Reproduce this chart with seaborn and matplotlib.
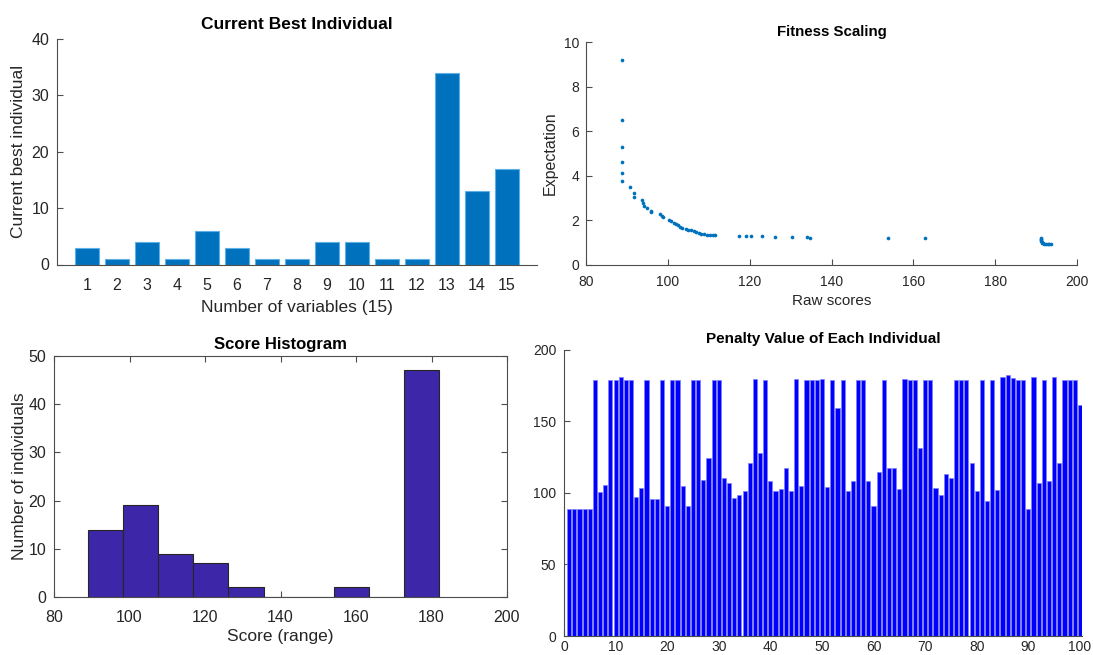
import numpy as np
import pandas as pd
import matplotlib
matplotlib.use("Agg")
import matplotlib.pyplot as plt
import seaborn as sns

# ---------------- data ----------------
variables = list(range(1, 16))
best_individual = [3, 1, 4, 1, 6, 3, 1, 1, 4, 4, 1, 1, 34, 13, 17]

raw_scores = [88.8, 88.8, 88.8, 88.8, 88.8, 88.8, 90.7, 91.8, 91.8, 93.8,
              93.9, 94.1, 94.8, 95.9, 96.0, 98.0, 98.5, 98.9, 100.2, 100.8,
              101.4, 101.9, 102.4, 103.0, 103.5, 104.5, 105.0, 105.6, 106.3, 106.9,
              107.6, 108.2, 108.9, 109.5, 110.2, 111.1, 111.6, 117.3, 119.2, 120.4,
              122.9, 126.2, 130.4, 134.0, 134.7, 153.8, 162.9, 191.2, 191.2, 191.3,
              191.3, 191.4, 191.5, 191.7, 192.0, 192.4, 192.8, 193.2, 193.6]
expectation = [9.21, 6.51, 5.31, 4.60, 4.11, 3.75, 3.47, 3.24, 3.04, 2.89,
               2.76, 2.64, 2.53, 2.42, 2.35, 2.28, 2.20, 2.12, 2.02, 1.95,
               1.89, 1.83, 1.77, 1.71, 1.65, 1.60, 1.57, 1.54, 1.50, 1.46,
               1.42, 1.39, 1.36, 1.34, 1.33, 1.32, 1.31, 1.30, 1.29, 1.28,
               1.27, 1.25, 1.24, 1.22, 1.21, 1.19, 1.18, 1.19, 1.15, 1.11,
               1.07, 1.03, 0.99, 0.96, 0.94, 0.93, 0.92, 0.92, 0.91]

individuals = list(range(1, 101))
penalty = [89, 89, 89, 89, 89, 179, 100.5, 105.5, 179, 179,
           181, 179, 179, 97, 103, 179, 95.5, 95.5, 179, 91,
           179, 179, 104.5, 91, 179, 179, 109, 124.5, 179, 179,
           110, 107, 96, 98.5, 101, 121, 179.5, 128, 179, 108,
           101, 102.5, 117, 101.5, 179.5, 105, 179, 179, 179, 179.5,
           104, 179, 159.5, 179, 101.5, 108, 179, 179, 108, 91,
           114.5, 179, 117, 117.5, 102.5, 179.5, 179, 179, 131, 179,
           179, 103.5, 98.5, 113, 110.5, 179, 179, 179, 121, 101.5,
           179, 94, 179, 102, 181, 182, 180, 179, 179, 89,
           181, 106.5, 179, 108, 180.5, 121, 179, 179, 179, 161]

# ---------------- style ----------------
sns.set_theme(style="ticks")
plt.rcParams["font.family"] = ["Liberation Sans", "DejaVu Sans"]
AX_COL = "#4d4d4d"
TXT_COL = "#262626"
plt.rcParams["axes.edgecolor"] = AX_COL
plt.rcParams["axes.linewidth"] = 0.8
plt.rcParams["xtick.color"] = AX_COL
plt.rcParams["ytick.color"] = AX_COL
plt.rcParams["xtick.labelcolor"] = TXT_COL
plt.rcParams["ytick.labelcolor"] = TXT_COL
plt.rcParams["axes.labelcolor"] = TXT_COL

W, H = 1093, 655
fig = plt.figure(figsize=(W / 100, H / 100), dpi=100)


def box(l, t, r, b):
    return [l / W, 1 - b / H, (r - l) / W, (b - t) / H]


def style_ax(ax, size, xpad, ypad=5.5, full_box=False):
    ax.tick_params(direction="in", length=4, width=0.8, labelsize=size,
                   top=full_box, right=full_box)
    ax.tick_params(axis="x", pad=xpad)
    ax.tick_params(axis="y", pad=ypad)
    if not full_box:
        sns.despine(ax=ax)


# ---- Top-left: Current Best Individual ----
ax1 = fig.add_axes(box(57, 39, 537, 264.5))
sns.barplot(x=variables, y=best_individual, native_scale=True, ax=ax1,
            color="#0072BD", saturation=1, width=0.8, errorbar=None,
            edgecolor="#5fb0e6", linewidth=0.8)
ax1.set_xlim(0, 16)
ax1.set_ylim(0, 40)
ax1.set_xticks(variables)
ax1.set_yticks([0, 10, 20, 30, 40])
style_ax(ax1, 11.5, xpad=9.5)
ax1.set_title("Current Best Individual", fontsize=12.5, fontweight="bold",
              color="black", pad=7)
ax1.set_xlabel("Number of variables (15)", fontsize=12.5, labelpad=5)
ax1.set_ylabel("Current best individual", fontsize=12.5, labelpad=4)

# ---- Top-right: Fitness Scaling ----
ax2 = fig.add_axes(box(586, 42.5, 1077, 264.5))
sns.scatterplot(x=raw_scores, y=expectation, ax=ax2, color="#0072BD",
                s=7, linewidth=0)
ax2.set_xlim(80, 200)
ax2.set_ylim(0, 10)
ax2.set_xticks(range(80, 201, 20))
ax2.set_yticks(range(0, 11, 2))
style_ax(ax2, 10, xpad=7.5, ypad=5)
ax2.set_title("Fitness Scaling", fontsize=10.8, fontweight="bold",
              color="black", pad=5)
ax2.set_xlabel("Raw scores", fontsize=11, labelpad=4)
ax2.set_ylabel("Expectation", fontsize=11.5, labelpad=4)

# ---- Bottom-left: Score Histogram ----
ax3 = fig.add_axes(box(54, 356, 507, 597))
sns.histplot(x=penalty, bins=10, ax=ax3, color="#3E26A8", alpha=1,
             edgecolor="#262626", linewidth=0.8)
ax3.set_xlim(80, 200)
ax3.set_ylim(0, 50)
ax3.set_xticks(range(80, 201, 20))
ax3.set_yticks(range(0, 51, 10))
style_ax(ax3, 11.5, xpad=9.5, full_box=True)
ax3.set_title("Score Histogram", fontsize=12, fontweight="bold",
              color="black", pad=5)
ax3.set_xlabel("Score (range)", fontsize=12.5, labelpad=3)
ax3.set_ylabel("Number of individuals", fontsize=12.5, labelpad=1)

# ---- Bottom-right: Penalty Value of Each Individual ----
ax4 = fig.add_axes(box(564, 349.5, 1082, 636))
sns.barplot(x=individuals, y=penalty, native_scale=True, ax=ax4,
            color="#0000FF", saturation=1, width=0.8, errorbar=None,
            edgecolor="#7f7fff", linewidth=0.5)
ax4.set_xlim(0, 100.4)
ax4.set_ylim(0, 200)
ax4.set_xticks(range(0, 101, 10))
ax4.set_yticks(range(0, 201, 50))
style_ax(ax4, 10, xpad=3)
ax4.set_title("Penalty Value of Each Individual", fontsize=11, fontweight="bold",
              color="black", pad=5)
ax4.set_xlabel("")
ax4.set_ylabel("")

fig.savefig("out.png", dpi=100)
